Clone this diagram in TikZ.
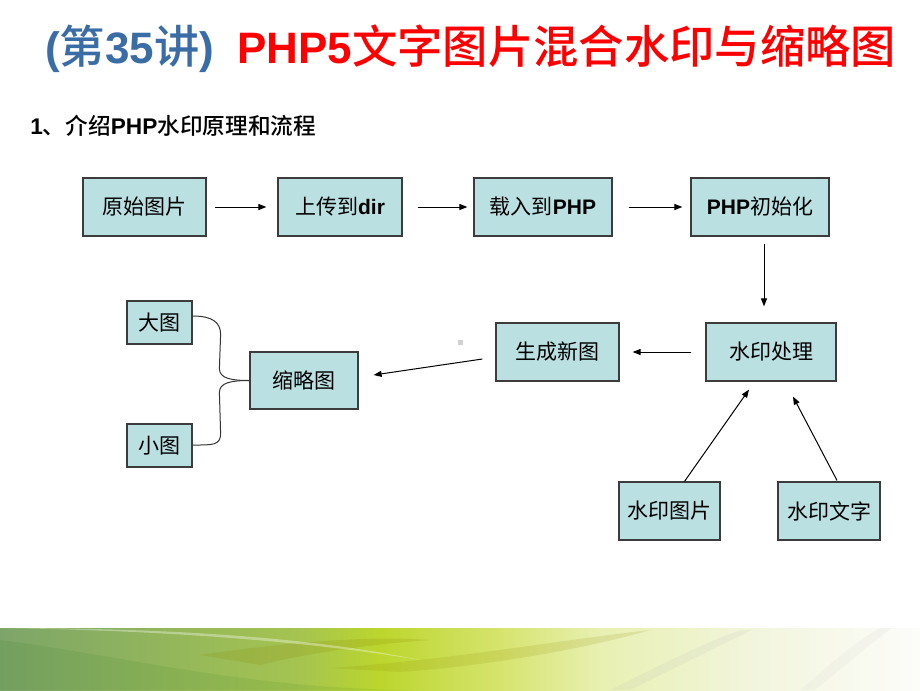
\documentclass[tikz,border=0pt]{standalone}
\usepackage{fontspec}
\setmainfont{Liberation Sans}
\newfontfamily\cjk{Noto Sans CJK SC}
\newfontfamily\cjkm{Noto Sans CJK SC Medium}
\usetikzlibrary{arrows.meta,calc}
\newdimen\pxu \pxu=0.75pt
\newcommand\zh[1]{{\cjk #1}}
\newcommand\zhm[1]{{\cjkm\mdseries\fontsize{34}{36}\selectfont #1}}
\newcommand\zhs[1]{{\cjkm\mdseries #1}}
\definecolor{boxfill}{RGB}{187,224,226}
\definecolor{boxline}{RGB}{60,60,60}
\definecolor{titleblue}{RGB}{58,108,165}
\definecolor{titlered}{RGB}{255,0,0}
\definecolor{g0}{RGB}{125,165,105}
\definecolor{g1}{RGB}{165,196,80}
\definecolor{g2}{RGB}{188,214,45}
\definecolor{g3}{RGB}{214,228,110}
\definecolor{g4}{RGB}{232,240,178}
\definecolor{g5}{RGB}{242,245,220}
\definecolor{g6}{RGB}{252,252,250}
\tikzset{
  box/.style={draw=boxline, line width=0.9pt, fill=boxfill, inner sep=0pt,
    font=\fontsize{15.75}{18}\selectfont},
  wh/.style 2 args={minimum width=#1\pxu, minimum height=#2\pxu},
  arr/.style={-{Triangle[length=6pt,width=4.5pt]}, line width=0.75pt, black},
  link/.style={line width=0.75pt, black!80},
  ttl/.style={anchor=base west, inner sep=0pt, font=\fontsize{33}{36}\selectfont\bfseries},
  sub/.style={anchor=base west, inner sep=0pt, font=\fontsize{17}{18}\selectfont\bfseries}
}
\begin{document}
\begin{tikzpicture}[x=0.75pt,y=-0.75pt]
\useasboundingbox (0,0) rectangle (920,690);
\fill[white] (0,0) rectangle (920,690);

% bottom band
\shade[left color=g0,right color=g1] (0,628) rectangle (301,690);
\shade[left color=g1,right color=g2] (300,628) rectangle (381,690);
\shade[left color=g2,right color=g3] (380,628) rectangle (501,690);
\shade[left color=g3,right color=g4] (500,628) rectangle (601,690);
\shade[left color=g4,right color=g5] (600,628) rectangle (751,690);
\shade[left color=g5,right color=g6] (750,628) rectangle (920,690);
\begin{scope}
\clip (0,628) rectangle (920,690);
\fill[black!60!green, opacity=0.08] (0,640) .. controls (120,655) and (250,690) .. (420,690) -- (0,690) -- cycle;
\fill[olive, opacity=0.18] (200,655) .. controls (300,640) and (380,636) .. (430,640) .. controls (360,645) and (300,655) .. (260,665) -- cycle;
\fill[olive, opacity=0.15] (330,668) .. controls (450,660) and (560,640) .. (650,630) .. controls (600,645) and (500,665) .. (400,672) -- cycle;
\fill[white, opacity=0.35] (0,628) .. controls (150,630) and (300,640) .. (420,660) .. controls (300,635) and (150,628) .. (0,628) -- cycle;
\fill[black!30, opacity=0.12] (610,690) .. controls (660,665) and (700,645) .. (740,630) -- (752,630) .. controls (715,648) and (670,670) .. (630,690) -- cycle;
\fill[black!25, opacity=0.10] (800,690) .. controls (830,665) and (850,645) .. (880,628) -- (892,628) .. controls (865,648) and (842,668) .. (815,690) -- cycle;
\end{scope}

% titles
\node[ttl, text=titleblue] (t1) at (45,63) {(\zhm{第}35\zhm{讲})};
\node[ttl, text=titlered] (t2) at (237,63) {PHP5\zhm{文字图片混合水印与缩略图}};
\node[sub] (st) at (30,134) {1\zhs{、介绍}PHP\zhs{水印原理和流程}};

% boxes
\node[box, wh={123}{58}] (o) at (144.5,207) {\zh{原始图片}};
\node[box, wh={124}{58}] (u) at (340,207) {\zh{上传到}\textbf{dir}};
\node[box, wh={138}{58}] (l) at (543,207) {\zh{载入到}\textbf{PHP}};
\node[box, wh={138}{58}] (p) at (760,207) {\textbf{PHP}\zh{初始化}};
\node[box, wh={130}{58}] (w) at (771,352) {\zh{水印处理}};
\node[box, wh={123}{58}] (g) at (557.5,352) {\zh{生成新图}};
\node[box, wh={108}{57}] (s) at (304,380.5) {\zh{缩略图}};
\node[box, wh={65}{43}] (d) at (159.5,322.5) {\zh{大图}};
\node[box, wh={65}{43}] (x) at (159.5,445.5) {\zh{小图}};
\node[box, wh={101}{58}] (wp) at (669.5,511) {\zh{水印图片}};
\node[box, wh={102}{58}] (wt) at (829,511) {\zh{水印文字}};

% arrows
\draw[arr, shorten <=8\pxu, shorten >=11\pxu] (o.east) -- (u.west);
\draw[arr, shorten <=15\pxu, shorten >=6\pxu] (u.east) -- (l.west);
\draw[arr, shorten <=16\pxu, shorten >=8\pxu] (l.east) -- (p.west);
\draw[arr, shorten <=7\pxu, shorten >=16\pxu] ([xshift=4\pxu]p.south) -- ([xshift=-7\pxu]w.north);
\draw[arr, shorten <=14\pxu, shorten >=13\pxu] (w.west) -- (g.east);
\draw[arr] ($(g.west)+(-13,7)$) -- ($(s.east)+(15,-5.5)$);
\draw[arr] ($(wp.north)+(15,0)$) -- ($(w.south)+(-22,8)$);
\draw[arr] ($(wt.north)+(8,-1)$) -- ($(w.south)+(22,15)$);

% brace links
\draw[link] ($(d.east)+(0,-6.5)$) .. controls +(20,0) and +(0,-12) .. ($(d.east)+(28,12)$)
  -- ($(s.west)+(-30,-12)$) .. controls +(0,10) and +(-18,0) .. (s.west);
\draw[link] ($(x.east)+(0,-0.5)$) .. controls +(20,0) and +(0,12) .. ($(x.east)+(28,-12)$)
  -- ($(s.west)+(-30,12)$) .. controls +(0,-10) and +(-18,0) .. (s.west);

% small grey mark
\fill[black!18] (457.5,339.5) rectangle (462.5,344.5);
\end{tikzpicture}
\end{document}
